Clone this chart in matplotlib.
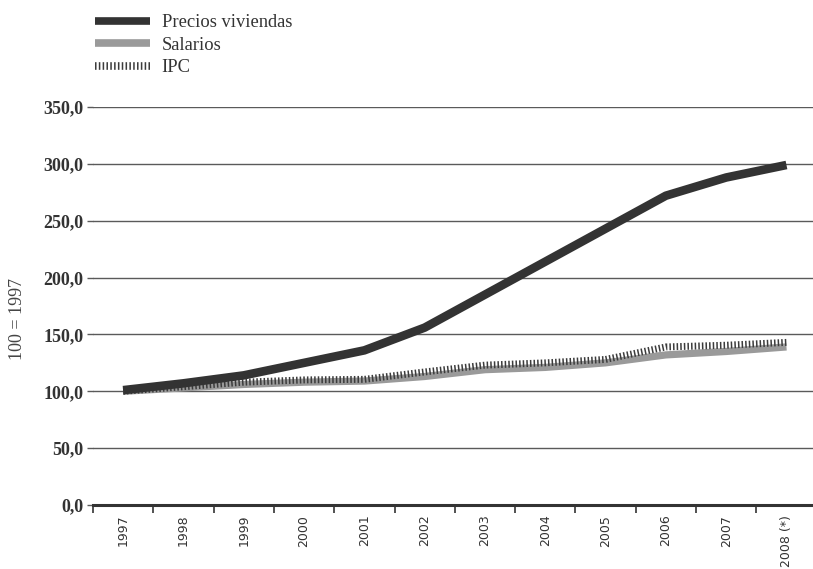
import matplotlib
matplotlib.use("Agg")
import matplotlib.pyplot as plt
from matplotlib.lines import Line2D

years = ["1997", "1998", "1999", "2000", "2001", "2002", "2003", "2004", "2005", "2006", "2007", "2008 (*)"]
precios = [101, 107, 114, 125, 136, 156, 185, 214, 243, 272, 288, 299]
salarios = [100, 103, 106, 108, 109, 113, 119, 121, 125, 132, 135, 139]
ipc = [100, 104, 108, 110, 110.5, 117, 123, 125, 128, 139, 140.5, 143]
yticks = [0, 50, 100, 150, 200, 250, 300, 350]
ytick_labels = ["0,0", "50,0", "100,0", "150,0", "200,0", "250,0", "300,0", "350,0"]

W, H = 813, 569
fig = plt.figure(figsize=(W / 100, H / 100), dpi=100)
left, right, bottom, top = 93, 813, 505, 107
ax = fig.add_axes([left / W, (H - bottom) / H, (right - left) / W, (bottom - top) / H])

x = list(range(len(years)))
ax.plot(x, salarios, color="#9a9a9a", lw=5.2, solid_capstyle="butt", zorder=3)
ax.plot(x, ipc, color="#3c3c3c", lw=5.0, linestyle=(0, (0.22, 0.3)),
        dash_capstyle="butt", zorder=4)
ax.plot(x, precios, color="#333333", lw=6.2, solid_capstyle="butt", zorder=5)

ax.set_xlim(-0.5, 11.44)
ax.set_ylim(0, 350)

for v in yticks[1:]:
    ax.axhline(v, color="#5a5a5a", lw=1.0, zorder=1)
ax.axhline(0, color="#333333", lw=2.2, zorder=2, clip_on=False)

for s in ax.spines.values():
    s.set_visible(False)

ax.set_yticks(yticks)
ax.set_yticklabels(ytick_labels, family="Liberation Serif", fontsize=13,
                   fontweight="bold", color="#333333")
ax.tick_params(axis="y", length=4, width=1.0, color="#5a5a5a", pad=3)

ax.set_xticks([i - 0.5 for i in range(12)])
ax.set_xticklabels([])
ax.tick_params(axis="x", which="major", length=6, width=1.2, color="#333333", direction="out")
ax.set_xticks(x, minor=True)
ax.set_xticklabels(years, minor=True, rotation=90, family="DejaVu Sans",
                   fontsize=9, color="#333333", va="top")
ax.tick_params(axis="x", which="minor", length=0, pad=7)

fig.text(18 / W, 1 - 319 / H, "100 = 1997", rotation=90, family="Liberation Serif",
         fontsize=13, color="#444444", ha="center", va="center")

handles = [
    Line2D([], [], color="#333333", lw=5.5, solid_capstyle="butt"),
    Line2D([], [], color="#9a9a9a", lw=5.5, solid_capstyle="butt"),
    Line2D([], [], color="#3c3c3c", lw=5.5, linestyle=(0, (0.2, 0.3)), dash_capstyle="butt"),
]
fig.legend(handles, ["Precios viviendas", "Salarios", "IPC"], loc="upper left",
           bbox_to_anchor=(95 / W, 1 - 14 / H), frameon=False, borderpad=0,
           borderaxespad=0, handlelength=3.0, handletextpad=0.6, labelspacing=0.3,
           prop={"family": "Liberation Serif", "size": 13.3}, labelcolor="#333333")

fig.savefig("out.png", dpi=100)
